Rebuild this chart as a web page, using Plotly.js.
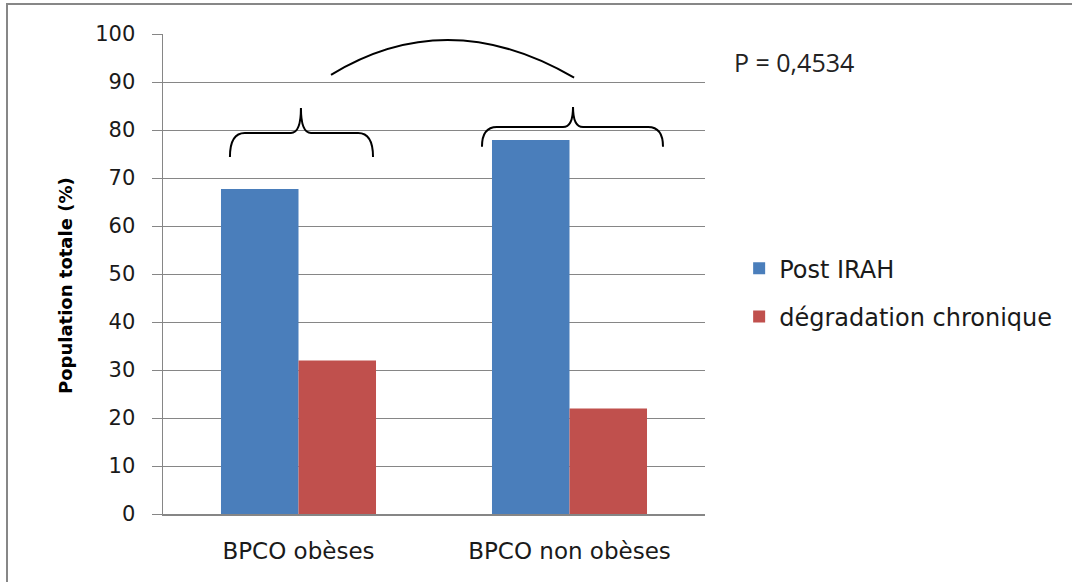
<!DOCTYPE html>
<html>
<head>
<meta charset="utf-8">
<script src="https://cdn.plot.ly/plotly-3.0.1.min.js"></script>
<style>
  html, body { margin: 0; padding: 0; background: #ffffff; }
  #wrap { position: relative; width: 1072px; height: 582px; overflow: hidden; }
  #chart { position: absolute; left: 0; top: 0; width: 1072px; height: 582px; }
  #frame { position: absolute; left: 6px; top: 3px; width: 1100px; height: 600px;
           border-left: 2px solid #878787; border-top: 2px solid #878787; pointer-events: none; }
</style>
</head>
<body>
<div id="wrap">
  <div id="chart"></div>
  <div id="frame"></div>
</div>
<script>
// Data
const categories = ["BPCO obèses", "BPCO non obèses"];
const postIRAH = [67.7, 77.9];
const degradationChronique = [32.0, 22.0];
const seriesNames = ["Post IRAH", "dégradation chronique"];
const yTickValues = [0, 10, 20, 30, 40, 50, 60, 70, 80, 90, 100];
const pValueText = "P = 0,4534";

const tickFont = { family: "DejaVu Sans", size: 21, color: "#1a1a1a" };

const traces = [
  {
    type: "bar", name: seriesNames[0], x: categories, y: postIRAH,
    marker: { color: "#4A7EBB" }, legendgroup: "a", hoverinfo: "y"
  },
  {
    type: "bar", name: seriesNames[1], x: categories, y: degradationChronique,
    marker: { color: "#C0504D" }, legendgroup: "b", hoverinfo: "y"
  }
];

function brace(x0, x1, xm, yEnd, yH, yPeak, c, cm) {
  return `M ${x0},${yEnd} Q ${x0},${yH} ${x0 + c},${yH} L ${xm - cm},${yH} ` +
         `Q ${xm},${yH} ${xm},${yPeak} Q ${xm},${yH} ${xm + cm},${yH} ` +
         `L ${x1 - c},${yH} Q ${x1},${yH} ${x1},${yEnd}`;
}

const lineStyle = { color: "#000000", width: 2 };

const layout = {
  width: 1072, height: 582,
  margin: { l: 163, r: 367, t: 34, b: 68 },
  paper_bgcolor: "#ffffff", plot_bgcolor: "#ffffff",
  barmode: "group", bargap: 0.428, bargroupgap: 0,
  showlegend: true,
  legend: {
    x: 1.063, xanchor: "left", y: 0.461, yanchor: "middle",
    font: { family: "DejaVu Sans", size: 24, color: "#1a1a1a" },
    tracegroupgap: 14, traceorder: "grouped",
    bgcolor: "rgba(0,0,0,0)"
  },
  xaxis: {
    type: "category", range: [-0.5, 1.5],
    showgrid: false, showline: true, linecolor: "#868686", linewidth: 1.5,
    ticks: "", ticklabelstandoff: 16,
    tickfont: { family: "DejaVu Sans", size: 23, color: "#1a1a1a" },
    zeroline: false, fixedrange: true
  },
  yaxis: {
    range: [0, 100], tickvals: yTickValues, ticktext: yTickValues.map(String),
    showgrid: true, gridcolor: "#868686", gridwidth: 1,
    showline: true, linecolor: "#868686", linewidth: 1.5,
    ticks: "outside", ticklen: 10, tickcolor: "#868686", tickwidth: 1,
    ticklabelstandoff: 12,
    tickfont: tickFont, zeroline: false, fixedrange: true
  },
  shapes: [
    { type: "path", xref: "x", yref: "y", line: lineStyle,
      path: brace(-0.253, 0.275, 0.009, 74.4, 79.4, 84.6, 0.055, 0.037) },
    { type: "path", xref: "x", yref: "y", line: lineStyle,
      path: brace(0.677, 1.345, 1.013, 76.5, 80.6, 84.8, 0.055, 0.037) },
    { type: "path", xref: "x", yref: "y", line: lineStyle,
      path: "M 0.120,91.5 Q 0.55,106.3 1.017,90.9" }
  ],
  annotations: [
    { xref: "paper", yref: "paper", x: 1.05, y: 0.942, xanchor: "left", yanchor: "middle",
      text: pValueText, showarrow: false,
      font: { family: "Open Sans", size: 25, color: "#222222" } },
    { xref: "paper", yref: "paper", x: (65 - 163) / 542, y: (514 - 286) / 480,
      xanchor: "center", yanchor: "middle", textangle: -90,
      text: "<b>Population totale (%)</b>", showarrow: false,
      font: { family: "DejaVu Sans", size: 18, color: "#000000" } }
  ]
};

Plotly.newPlot("chart", traces, layout, { displayModeBar: false, staticPlot: true });
</script>
</body>
</html>
